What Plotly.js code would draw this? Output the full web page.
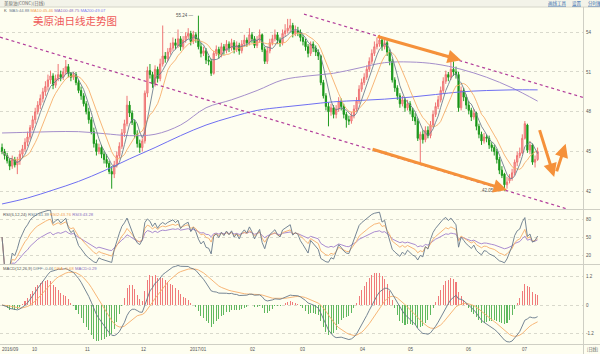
<!DOCTYPE html>
<html><head><meta charset="utf-8">
<script src="https://cdn.plot.ly/plotly-3.0.1.min.js"></script>
<style>html,body{margin:0;padding:0;background:#fefef0;}#chart{width:600px;height:354px;}</style>
</head><body><div id="chart"></div>
<script>
// ---- data (daily candles, index 0 = mid Sep 2016) ----
const opens = [45.3,45.0,44.7,44.3,43.9,44.4,44.0,44.3,44.8,45.2,
45.7,46.1,46.8,47.4,48.0,48.5,49.0,49.5,49.9,50.4,
50.7,50.0,50.5,50.8,50.6,51.0,51.4,50.9,50.6,50.8,
50.2,49.6,49.2,48.6,48.0,47.4,46.5,45.6,45.0,45.3,
44.8,44.4,44.1,43.5,43.3,44.0,44.7,45.4,46.4,47.1,
48.5,47.9,47.2,46.3,45.6,45.3,45.8,49.4,51.1,50.8,
50.1,51.2,50.5,51.6,52.2,52.0,52.5,52.8,53.2,53.0,
53.5,52.9,53.4,53.7,53.9,53.3,53.8,53.5,52.9,52.4,
52.6,51.9,51.8,50.9,52.4,52.7,52.3,52.9,52.6,53.1,
52.8,53.2,52.7,53.0,52.6,53.1,53.4,53.2,53.8,53.5,
53.0,53.4,53.8,52.7,51.8,52.6,53.2,53.5,53.8,53.4,
53.2,53.9,54.1,54.3,54.5,53.9,54.1,54.0,53.6,53.3,
52.9,52.4,53.1,52.8,52.5,52.2,50.2,49.2,48.4,48.0,
48.3,47.8,48.2,48.8,48.4,47.8,47.4,47.3,47.7,48.2,
48.8,49.7,50.2,50.6,51.2,51.8,52.4,52.9,53.1,53.4,
52.9,53.2,52.5,51.8,50.4,49.8,49.2,48.6,48.9,48.3,
48.6,48.1,47.6,47.3,45.9,46.3,45.9,46.6,46.2,47.0,
47.8,48.4,48.9,49.6,50.3,50.8,50.6,51.2,51.0,50.8,
48.3,49.6,49.1,48.5,48.1,47.6,47.9,46.9,46.3,45.8,
46.1,46.0,45.5,45.3,45.0,44.4,43.6,43.3,42.5,42.8,
43.0,43.4,44.2,44.7,44.9,46.0,47.0,45.1,45.5,44.2,44.4];
const highs = [45.6,45.2,44.9,44.5,44.7,44.6,44.6,45.1,45.5,46.0,
46.5,47.0,47.7,48.3,48.8,49.3,49.8,50.3,50.8,51.1,
50.9,50.8,51.6,51.1,51.3,51.9,51.6,51.0,51.0,51.0,
50.4,49.9,49.4,48.8,48.3,47.6,46.8,45.9,45.6,45.5,
45.0,44.8,44.3,43.9,44.3,45.0,45.7,46.7,47.4,49.2,
48.8,48.1,47.4,46.6,45.9,46.0,49.6,51.4,51.6,51.0,
51.5,51.4,52.0,54.5,52.5,52.8,53.2,53.6,53.5,54.2,
53.7,53.7,54.0,54.3,54.1,54.1,54.0,55.24,53.2,52.9,
52.8,52.2,52.0,52.6,53.0,52.9,53.2,53.1,53.4,53.3,
53.5,53.4,53.3,53.2,53.4,53.8,53.6,54.3,54.0,53.7,
53.7,54.2,53.9,52.9,52.9,53.5,53.8,54.2,54.0,53.6,
54.2,54.6,55.0,55.0,54.7,54.5,54.4,54.2,53.8,53.5,
53.1,53.3,53.3,53.0,52.7,52.3,50.4,49.4,48.7,48.6,
48.5,48.5,49.1,49.0,48.6,48.0,47.7,48.0,48.5,49.1,
50.0,50.5,50.9,51.5,52.1,52.7,53.3,53.6,53.8,53.6,
53.5,53.4,52.7,52.0,50.6,50.0,49.4,49.2,49.1,48.9,
48.8,48.3,47.9,47.5,46.5,46.6,46.9,46.9,47.3,48.1,
48.7,49.2,49.9,50.6,51.1,51.0,51.8,51.8,51.4,51.0,
49.9,49.8,49.3,48.8,48.3,48.2,48.0,47.1,46.5,46.4,
46.3,46.2,45.7,45.5,45.2,44.6,43.9,43.4,43.1,43.3,
43.7,44.4,45.0,45.3,46.3,47.3,47.1,45.8,45.6,44.7,45.3];
const lows = [44.8,44.4,44.1,43.6,43.7,43.8,43.3,44.0,44.6,45.0,
45.4,45.9,46.6,47.1,47.8,48.2,48.7,49.2,49.6,50.1,
49.7,49.8,50.3,50.3,50.4,50.8,50.6,50.3,50.4,50.0,
49.4,48.9,48.4,47.8,47.1,46.3,45.3,44.7,44.8,44.5,
44.1,43.8,43.3,42.2,43.0,43.8,44.5,45.2,46.1,46.9,
47.6,47.0,46.0,45.3,44.9,45.0,45.6,49.1,50.5,49.8,
49.9,50.2,50.3,51.4,51.7,51.8,52.3,52.6,52.7,52.8,
52.6,52.7,53.2,53.5,53.0,53.1,53.2,52.7,52.1,52.2,
51.6,51.5,50.7,50.8,52.2,52.0,52.1,52.3,52.4,52.5,
52.6,52.4,52.5,52.3,52.4,52.9,52.9,53.0,53.2,52.8,
52.8,53.2,52.5,51.6,51.6,52.4,53.0,53.3,53.1,52.9,
53.0,53.7,53.9,54.0,53.6,53.7,53.7,53.3,53.0,52.6,
52.1,52.2,52.5,52.2,51.9,50.0,49.0,48.1,46.9,47.7,
47.5,47.5,48.0,48.1,47.5,46.8,47.0,47.1,47.5,48.0,
48.6,49.5,50.0,50.4,51.0,51.6,52.2,52.7,52.9,52.6,
52.7,52.2,51.5,50.2,49.5,48.9,48.3,48.4,48.0,48.1,
47.8,47.3,47.0,45.8,44.0,45.6,45.7,46.0,46.0,46.8,
47.6,48.2,48.7,49.4,50.1,50.3,50.4,50.7,50.5,48.0,
48.1,48.8,48.2,47.8,47.3,47.4,46.6,46.0,45.5,45.6,
45.7,45.2,45.0,44.7,44.1,43.3,43.0,42.05,42.2,42.6,
42.8,43.2,43.9,44.5,44.8,45.9,44.9,44.8,44.0,43.8,44.3];
const closes = [45.0,44.7,44.3,43.9,44.4,44.0,44.3,44.8,45.2,45.7,
46.1,46.8,47.4,48.0,48.5,49.0,49.5,49.9,50.4,50.7,
50.0,50.5,50.8,50.6,51.0,51.4,50.9,50.6,50.8,50.2,
49.6,49.2,48.6,48.0,47.4,46.5,45.6,45.0,45.3,44.8,
44.4,44.1,43.5,43.3,44.0,44.7,45.4,46.4,47.1,48.5,
47.9,47.2,46.3,45.6,45.3,45.8,49.4,51.1,50.8,50.1,
51.2,50.5,51.6,52.2,52.0,52.5,52.8,53.2,53.0,53.5,
52.9,53.4,53.7,53.9,53.3,53.8,53.5,52.9,52.4,52.6,
51.9,51.8,50.9,52.4,52.7,52.3,52.9,52.6,53.1,52.8,
53.2,52.7,53.0,52.6,53.1,53.4,53.2,53.8,53.5,53.0,
53.4,53.8,52.7,51.8,52.6,53.2,53.5,53.8,53.4,53.2,
53.9,54.1,54.3,54.5,53.9,54.1,54.0,53.6,53.3,52.9,
52.4,53.1,52.8,52.5,52.2,50.2,49.2,48.4,48.0,48.3,
47.8,48.2,48.8,48.4,47.8,47.4,47.3,47.7,48.2,48.8,
49.7,50.2,50.6,51.2,51.8,52.4,52.9,53.1,53.4,52.9,
53.2,52.5,51.8,50.4,49.8,49.2,48.6,48.9,48.3,48.6,
48.1,47.6,47.3,46.0,46.3,45.9,46.6,46.2,47.0,47.8,
48.4,48.9,49.6,50.3,50.8,50.6,51.2,51.0,50.8,48.3,
49.6,49.1,48.5,48.1,47.6,47.9,46.9,46.3,45.8,46.1,
46.0,45.5,45.3,45.0,44.4,43.6,43.2,42.5,42.7,43.0,
43.4,44.2,44.7,44.9,46.0,47.1,45.1,45.5,44.2,44.4,45.0];

// long moving averages (history before the window is not shown), read at sample candles
const maLongIdx = [0,10,20,30,40,50,60,70,80,90,100,110,120,130,140,150,160,170,180,190,200,210];
const ma100Vals = [46.4,46.45,46.5,46.5,46.35,46.2,46.3,47.0,48.3,48.9,49.6,50.4,50.7,50.9,51.3,51.7,51.75,51.6,51.2,50.6,49.8,48.8];
const ma200Vals = [41.05,41.5,42.1,42.75,43.55,44.45,45.3,46.2,47.0,47.6,48.1,48.35,48.55,48.75,48.85,48.95,49.1,49.3,49.5,49.6,49.65,49.65];

const monthTickIdx = [-0.8,12.9,33.7,55.7,76.9,98.4,118,141.6,160.4,183.1,205];
const monthTickText = ['2016/09','10','11','12','2017/01','02','03','04','05','06','07'];

const priceTicks = [42,45,48,51,54];
const rsiTicks = [20,50,80];
const macdTicks = [-1.2,0,1.2];

// drawn trend lines (index, price)
const trendLower = [[-0.8,53.62],[221.6,40.67]];
const trendUpper = [[118.4,55.36],[227.8,49.08]];
// orange arrows: [tailIdx, tailPrice, headIdx, headPrice]
const arrows = [[146.7,53.70,180.0,51.88],[144.7,45.21,198.0,42.11],[210.6,46.73,216.5,43.09],[217.3,43.39,221.0,45.59]];

// ---- indicators ----
const idx = closes.map((_, i) => i);
function sma(arr, n){ return arr.map((_, i) => { const s = Math.max(0, i-n+1); let t=0; for(let k=s;k<=i;k++) t+=arr[k]; return t/(i-s+1); }); }
function ema(arr, n){ const out=[]; let e=arr[0]; arr.forEach((v,i)=>{ e = i===0 ? v : (2*v + (n-1)*e)/(n+1); out.push(e); }); return out; }
const ma5 = sma(closes,5), ma10 = sma(closes,10);
function rsi(n){ let up=0, ab=0; const out=[]; closes.forEach((c,i)=>{ if(i===0){ out.push(50); return; } const d=c-closes[i-1]; if(i===1){ up=Math.max(d,0); ab=Math.abs(d);} else { up=(Math.max(d,0)+(n-1)*up)/n; ab=(Math.abs(d)+(n-1)*ab)/n; } out.push(ab===0?50:up/ab*100); }); return out; }
const rsi1 = rsi(6), rsi2 = rsi(12), rsi3 = rsi(24);
const e12 = ema(closes,12), e26 = ema(closes,26);
const diff = e12.map((v,i)=>v-e26[i]);
const dea = ema(diff,9);
const hist = diff.map((v,i)=>2*(v-dea[i]));

// ---- geometry helpers (pixel -> paper) ----
const PL=0, PR=583, PT=8, PB=344, PW=PR-PL, PH=PB-PT;
const px = x => (x-PL)/PW;
const py = y => (PB-y)/PH;

const traces = [
  {type:'candlestick', x:idx, open:opens, high:highs, low:lows, close:closes, xaxis:'x', yaxis:'y',
   increasing:{line:{color:'#ef7474',width:1}, fillcolor:'#f6b0b0'},
   decreasing:{line:{color:'#1f9a1f',width:1}, fillcolor:'#0b8a0b'},
   whiskerwidth:0, hoverinfo:'none'},
  {type:'scatter', mode:'lines', x:maLongIdx, y:ma100Vals, line:{color:'#a58fcb',width:1,shape:'spline'}, yaxis:'y', hoverinfo:'none'},
  {type:'scatter', mode:'lines', x:maLongIdx, y:ma200Vals, line:{color:'#6f6ff2',width:1,shape:'spline'}, yaxis:'y', hoverinfo:'none'},
  {type:'scatter', mode:'lines', x:idx, y:ma10, line:{color:'#f6ae6a',width:0.9}, yaxis:'y', hoverinfo:'none'},
  {type:'scatter', mode:'lines', x:idx, y:ma5, line:{color:'#6f7f90',width:0.9}, yaxis:'y', hoverinfo:'none'},
  {type:'scatter', mode:'lines', x:idx, y:rsi3, line:{color:'#a07fcc',width:0.9}, yaxis:'y2', hoverinfo:'none'},
  {type:'scatter', mode:'lines', x:idx, y:rsi2, line:{color:'#f6ae6a',width:0.9}, yaxis:'y2', hoverinfo:'none'},
  {type:'scatter', mode:'lines', x:idx, y:rsi1, line:{color:'#66788a',width:0.9}, yaxis:'y2', hoverinfo:'none'},
  {type:'bar', x:idx, y:hist, width:0.4, marker:{color:hist.map(v=>v>=0?'#f07a7a':'#5fb85f'), line:{width:0}}, yaxis:'y3', hoverinfo:'none'},
  {type:'scatter', mode:'lines', x:idx, y:dea, line:{color:'#f6ae6a',width:0.9}, yaxis:'y3', hoverinfo:'none'},
  {type:'scatter', mode:'lines', x:idx, y:diff, line:{color:'#66788a',width:0.9}, yaxis:'y3', hoverinfo:'none'}
];

const small = {family:'Liberation Sans, Noto Sans CJK SC, sans-serif', size:4.5, color:'#555'};
const yBase = {side:'right', ticks:'', showline:false, zeroline:false, gridcolor:'#d9d9cc', griddash:'dot', gridwidth:1, tickfont:small, fixedrange:true, ticklabelstandoff:2};

const shapes = [
  {type:'rect', xref:'paper', yref:'paper', x0:px(0), x1:px(600), y0:py(0), y1:py(7), fillcolor:'#f3f3e9', line:{width:0}, layer:'below'},
  {type:'line', xref:'paper', yref:'paper', x0:px(0), x1:px(600), y0:py(7), y1:py(7), line:{color:'#d4d4c8',width:1}},
  {type:'line', xref:'paper', yref:'paper', x0:px(0), x1:px(600), y0:py(209.5), y1:py(209.5), line:{color:'#cfcfc4',width:1}},
  {type:'line', xref:'paper', yref:'paper', x0:px(0), x1:px(600), y0:py(264.5), y1:py(264.5), line:{color:'#cfcfc4',width:1}},
  {type:'line', xref:'paper', yref:'paper', x0:px(0), x1:px(600), y0:py(344.5), y1:py(344.5), line:{color:'#cfcfc4',width:1}},
  {type:'line', xref:'paper', yref:'paper', x0:px(583.5), x1:px(583.5), y0:py(7), y1:py(354), line:{color:'#cfcfc4',width:1}},
  {type:'line', xref:'x', yref:'y', x0:trendLower[0][0], y0:trendLower[0][1], x1:trendLower[1][0], y1:trendLower[1][1], line:{color:'#b23c9a',width:1.2,dash:'dot'}},
  {type:'line', xref:'x', yref:'y', x0:trendUpper[0][0], y0:trendUpper[0][1], x1:trendUpper[1][0], y1:trendUpper[1][1], line:{color:'#b23c9a',width:1.2,dash:'dot'}}
];

const annotations = [
  {xref:'paper', yref:'paper', x:px(2), y:py(3.5), xanchor:'left', yanchor:'middle', showarrow:false, text:'美原油(CONC)(日线)', font:{family:'Noto Sans CJK SC, sans-serif', size:4.5, color:'#666'}},
  {xref:'paper', yref:'paper', x:px(2), y:py(10.5), xanchor:'left', yanchor:'middle', showarrow:false,
   text:'<span style="color:#555">K</span>  <span style="color:#6f7f90">MA5:44.88</span> <span style="color:#f0a050">MA10:45.46</span> <span style="color:#8a6fc0">MA100:48.75</span> <span style="color:#7a7af0">MA200:49.07</span>', font:{family:'Liberation Sans, sans-serif', size:4.2}},
  {xref:'paper', yref:'paper', x:px(31), y:py(21), xanchor:'left', yanchor:'middle', showarrow:false, text:'美原油日线走势图', font:{family:'Noto Sans CJK SC, sans-serif', size:10.5, color:'#ef5a5a'}},
  {xref:'paper', yref:'paper', x:px(1), y:py(214), xanchor:'left', yanchor:'middle', showarrow:false,
   text:'<span style="color:#555">RSI(6,12,24)</span> <span style="color:#66788a">RSI1:41.39</span> <span style="color:#f0a050">RSI2:43.76</span> <span style="color:#8a6fc0">RSI3:43.28</span>', font:{family:'Liberation Sans, sans-serif', size:4.2}},
  {xref:'paper', yref:'paper', x:px(1), y:py(268.5), xanchor:'left', yanchor:'middle', showarrow:false,
   text:'<span style="color:#555">MACD(12,26,9)</span> <span style="color:#66788a">DIFF:-0.46</span> <span style="color:#f0a050">DEA:-0.68</span> <span style="color:#8a6fc0">MACD:0.29</span>', font:{family:'Liberation Sans, sans-serif', size:4.2}},
  {xref:'x', yref:'y', x:77-0.8, y:55.24, xanchor:'right', yanchor:'middle', showarrow:false, text:'55.24 —', font:small},
  {xref:'x', yref:'y', x:197-0.8, y:42.05, xanchor:'right', yanchor:'middle', showarrow:false, text:'42.05 —', font:small},
  {xref:'paper', yref:'paper', x:px(546), y:py(3.5), xanchor:'left', yanchor:'middle', showarrow:false, text:'<u>画线工具</u>', font:{family:'Noto Sans CJK SC, sans-serif', size:4.5, color:'#3a6fb0'}},
  {xref:'paper', yref:'paper', x:px(570), y:py(3.5), xanchor:'left', yanchor:'middle', showarrow:false, text:'<u>设置</u>', font:{family:'Noto Sans CJK SC, sans-serif', size:4.5, color:'#3a6fb0'}},
  {xref:'paper', yref:'paper', x:px(586), y:py(3.5), xanchor:'left', yanchor:'middle', showarrow:false, text:'<u>分时图</u>', font:{family:'Noto Sans CJK SC, sans-serif', size:4.5, color:'#3a6fb0'}},
  {xref:'paper', yref:'paper', x:px(585), y:py(349), xanchor:'left', yanchor:'middle', showarrow:false, text:'[日线]', font:{family:'Noto Sans CJK SC, sans-serif', size:4.2, color:'#555'}}
];
// month labels along the date row
monthTickIdx.forEach((m, k) => annotations.push({xref:'x', yref:'paper', x:m, y:py(349.5), xanchor: k===0 ? 'left' : 'center', yanchor:'middle', showarrow:false, text:monthTickText[k], font:small}));
arrows.forEach(a => annotations.push({xref:'x', yref:'y', axref:'x', ayref:'y', x:a[2], y:a[3], ax:a[0], ay:a[1], text:'', showarrow:true, arrowhead:2, arrowsize:0.9, arrowwidth:3, arrowcolor:'#f5913a'}));

const layout = {
  width:600, height:354,
  margin:{l:PL, r:600-PR, t:PT, b:354-PB},
  paper_bgcolor:'#fefef0', plot_bgcolor:'#fefef0',
  showlegend:false, bargap:0,
  xaxis:{range:[-0.8,227.8], anchor:'y3', rangeslider:{visible:false}, showticklabels:false,
         showgrid:false, zeroline:false, ticks:'', showline:false, fixedrange:true},
  yaxis:Object.assign({}, yBase, {domain:[py(209), 1], range:[40.67,55.82], tickvals:priceTicks, ticktext:priceTicks.map(String)}),
  yaxis2:Object.assign({}, yBase, {domain:[py(264), py(210)], range:[5,95], tickvals:rsiTicks, ticktext:rsiTicks.map(String)}),
  yaxis3:Object.assign({}, yBase, {domain:[0, py(265)], range:[-1.642,1.684], tickvals:macdTicks, ticktext:['-1.2','0','1.2']}),
  shapes:shapes, annotations:annotations
};

Plotly.newPlot('chart', traces, layout, {staticPlot:true, displayModeBar:false});
</script>
</body></html>
